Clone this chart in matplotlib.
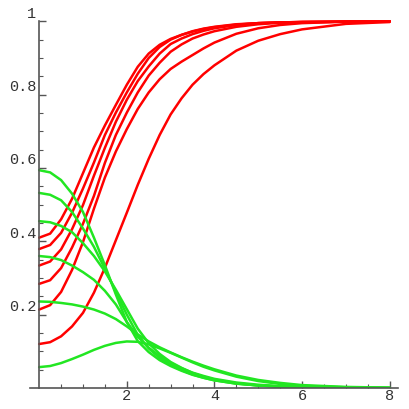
import numpy as np
import matplotlib
matplotlib.use("Agg")
import matplotlib.pyplot as plt
from matplotlib.ticker import FixedLocator
from matplotlib.transforms import ScaledTranslation

# sample positions along x
x = [0, 0.25, 0.5, 0.75, 1.0, 1.25, 1.5, 1.75, 2.0, 2.25, 2.5, 2.75,
     3.0, 3.25, 3.5, 3.75, 4.0, 4.5, 5.0, 5.5, 6.0, 7.0, 8.0]

# red family (rising)
red1 = [0.410, 0.421, 0.460, 0.516, 0.586, 0.656, 0.716, 0.772, 0.827, 0.876, 0.912, 0.936,
        0.952, 0.963, 0.972, 0.979, 0.984, 0.991, 0.995, 0.997, 0.998, 0.999, 1.0]
red2 = [0.379, 0.390, 0.423, 0.478, 0.544, 0.615, 0.690, 0.751, 0.806, 0.857, 0.900, 0.930,
        0.950, 0.963, 0.973, 0.980, 0.985, 0.992, 0.995, 0.997, 0.998, 0.999, 1.0]
red3 = [0.334, 0.345, 0.378, 0.433, 0.499, 0.579, 0.655, 0.726, 0.786, 0.837, 0.877, 0.912,
        0.938, 0.953, 0.965, 0.974, 0.981, 0.990, 0.995, 0.997, 0.998, 0.999, 1.0]
red4 = [0.284, 0.294, 0.327, 0.383, 0.448, 0.524, 0.614, 0.690, 0.751, 0.806, 0.852, 0.887,
        0.917, 0.937, 0.953, 0.964, 0.973, 0.985, 0.992, 0.996, 0.998, 0.999, 1.0]
red5 = [0.214, 0.226, 0.262, 0.322, 0.398, 0.489, 0.574, 0.645, 0.706, 0.761, 0.806, 0.842,
        0.870, 0.890, 0.908, 0.926, 0.942, 0.966, 0.981, 0.990, 0.995, 0.999, 1.0]
red6 = [0.120, 0.125, 0.141, 0.168, 0.205, 0.260, 0.328, 0.403, 0.478, 0.554, 0.625, 0.690,
        0.746, 0.790, 0.827, 0.856, 0.880, 0.920, 0.947, 0.965, 0.978, 0.993, 0.998]

# green family (decaying)
green1 = [0.594, 0.588, 0.567, 0.530, 0.480, 0.410, 0.335, 0.255, 0.180, 0.128, 0.098, 0.076,
          0.060, 0.047, 0.036, 0.028, 0.021, 0.012, 0.007, 0.004, 0.002, 0.0, 0.0]
green2 = [0.532, 0.527, 0.512, 0.480, 0.435, 0.385, 0.325, 0.262, 0.200, 0.145, 0.108, 0.082,
          0.063, 0.049, 0.037, 0.028, 0.021, 0.012, 0.007, 0.004, 0.002, 0.0, 0.0]
green3 = [0.455, 0.452, 0.442, 0.425, 0.395, 0.360, 0.318, 0.268, 0.215, 0.162, 0.122, 0.093,
          0.071, 0.055, 0.041, 0.031, 0.023, 0.013, 0.007, 0.004, 0.002, 0.0, 0.0]
green4 = [0.360, 0.357, 0.349, 0.334, 0.316, 0.295, 0.265, 0.228, 0.180, 0.140, 0.110, 0.087,
          0.068, 0.054, 0.042, 0.033, 0.025, 0.015, 0.009, 0.005, 0.003, 0.001, 0.0]
green5 = [0.236, 0.235, 0.232, 0.228, 0.222, 0.214, 0.203, 0.188, 0.168, 0.146, 0.127, 0.111,
          0.097, 0.084, 0.072, 0.061, 0.051, 0.034, 0.022, 0.014, 0.008, 0.003, 0.001]
green6 = [0.057, 0.060, 0.068, 0.079, 0.091, 0.104, 0.115, 0.123, 0.127, 0.126, 0.119, 0.108,
          0.096, 0.083, 0.070, 0.058, 0.048, 0.031, 0.019, 0.011, 0.006, 0.002, 0.0]

reds = [red1, red2, red3, red4, red5, red6]
greens = [green1, green2, green3, green4, green5, green6]

ytick_vals = [0.2, 0.4, 0.6, 0.8, 1.0]
ytick_text = ["0.2", "0.4", "0.6", "0.8", "1"]
xtick_vals = [2, 4, 6, 8]
xtick_text = ["2", "4", "6", "8"]

fig = plt.figure(figsize=(4.09, 4.09), dpi=100)
ax = fig.add_axes([0.0733, 0.0513, 0.8998, 0.9235])

for r in reds:
    ax.plot(x, r, color="#ff0000", lw=1.8, solid_capstyle="round")
for g in greens:
    ax.plot(x, g, color="#22e622", lw=1.8, solid_capstyle="round")

ax.set_xlim(-0.21, 8.19)
ax.set_ylim(0, 1.03)

axcol = "#555555"
ax.spines["top"].set_visible(False)
ax.spines["right"].set_visible(False)
ax.spines["left"].set_position(("data", 0))
ax.spines["left"].set_bounds(0, 1.0)
for s in ["left", "bottom"]:
    ax.spines[s].set_color(axcol)
    ax.spines[s].set_linewidth(1.2)

ax.set_xticks(xtick_vals)
ax.set_xticklabels(xtick_text)
ax.xaxis.set_minor_locator(FixedLocator(np.arange(0.5, 8.01, 0.5)))
ax.set_yticks(ytick_vals)
ax.set_yticklabels(ytick_text)
ax.yaxis.set_minor_locator(FixedLocator(np.arange(0.05, 1.001, 0.05)))

ax.tick_params(which="major", direction="in", length=5, width=1, color=axcol,
               labelsize=11, labelcolor="#333333", pad=2)
ax.tick_params(which="minor", direction="in", length=3, width=0.8, color=axcol)
ax.tick_params(axis="x", pad=1)

for lab in ax.get_xticklabels() + ax.get_yticklabels():
    lab.set_fontfamily("Liberation Mono")

# Mathematica draws the y labels a little above their ticks
shift = ScaledTranslation(0, 0.09, fig.dpi_scale_trans)
for lab in ax.get_yticklabels():
    lab.set_transform(lab.get_transform() + shift)

fig.savefig("out.png", dpi=100)
